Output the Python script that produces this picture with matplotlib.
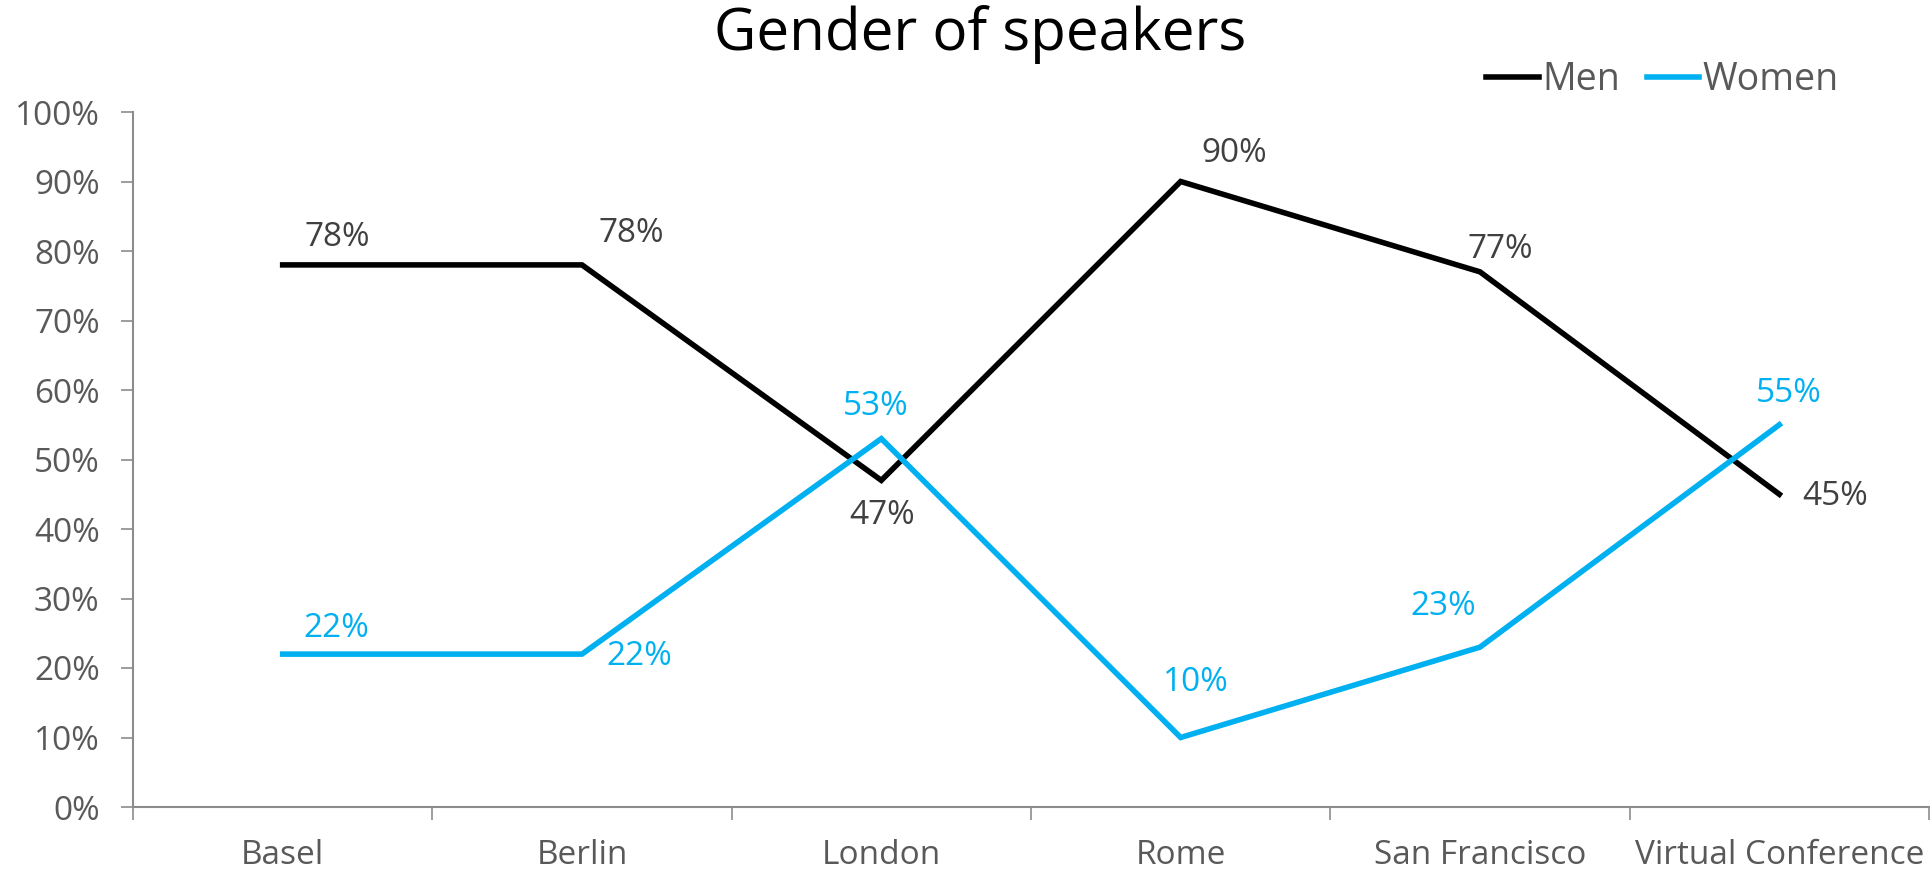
import matplotlib
matplotlib.use("Agg")
import matplotlib.pyplot as plt
from matplotlib.ticker import FixedLocator, PercentFormatter

plt.rcParams['font.family'] = ['Open Sans', 'DejaVu Sans']

cities = ["Basel", "Berlin", "London", "Rome", "San Francisco", "Virtual Conference"]
men = [78, 78, 47, 90, 77, 45]
women = [22, 22, 53, 10, 23, 55]

# label offsets in pixels (dx, dy)
men_off = [(55, 27), (49, 31), (1, -35), (54, 28), (20, 22), (56, -2)]
women_off = [(54, 26), (57, -2), (-6, 32), (15, 55), (-37, 41), (9, 31)]

BLACK = "#000000"
BLUE = "#00B0F0"
GREY = "#595959"

fig = plt.figure(figsize=(19.33, 8.73), dpi=100)
ax = fig.add_axes([133 / 1933, 1 - 807 / 873, (1929 - 133) / 1933, (807 - 112) / 873])

x = list(range(len(cities)))
ax.plot(x, men, color=BLACK, lw=4, label="Men", solid_joinstyle="miter")
ax.plot(x, women, color=BLUE, lw=4, label="Women", solid_joinstyle="miter")

for xi, v, off in zip(x, men, men_off):
    ax.annotate(f"{v}%", (xi, v), xytext=off, textcoords="offset pixels",
                ha="center", va="center", fontsize=24, color="#404040")
for xi, v, off in zip(x, women, women_off):
    ax.annotate(f"{v}%", (xi, v), xytext=off, textcoords="offset pixels",
                ha="center", va="center", fontsize=24, color=BLUE)

ax.set_xlim(-0.5, len(cities) - 0.5)
ax.set_ylim(0, 100)
ax.set_yticks(range(0, 101, 10))
ax.yaxis.set_major_formatter(PercentFormatter(decimals=0))

ax.xaxis.set_major_locator(FixedLocator([i - 0.5 for i in range(len(cities) + 1)]))
ax.xaxis.set_minor_locator(FixedLocator(x))
ax.set_xticklabels([], minor=False)
ax.set_xticklabels(cities, minor=True)
ax.tick_params(axis="x", which="major", length=9, width=1.2, color="#8c8c8c", direction="out")
ax.tick_params(axis="x", which="minor", length=0, pad=23, labelsize=24, labelcolor=GREY)
ax.tick_params(axis="y", length=9, width=1.2, color="#8c8c8c", pad=15, labelsize=24, labelcolor=GREY)

for s in ["top", "right"]:
    ax.spines[s].set_visible(False)
for s in ["left", "bottom"]:
    ax.spines[s].set_color("#8c8c8c")
    ax.spines[s].set_linewidth(1.5)

fig.text(980 / 1933, 1 - 35 / 873, "Gender of speakers", ha="center", va="center",
         fontsize=42, color=BLACK)

leg = fig.legend(loc="center right", bbox_to_anchor=(1839 / 1933, 1 - 80 / 873),
                 ncol=2, frameon=False, fontsize=27, handlelength=1.4,
                 handletextpad=0.1, columnspacing=0.7, borderaxespad=0, borderpad=0)
for t in leg.get_texts():
    t.set_color(GREY)

fig.savefig("out.png", dpi=100)
